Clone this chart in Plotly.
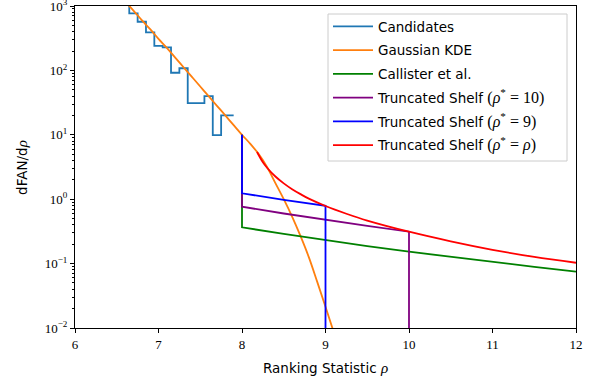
import plotly.graph_objects as go

# ---- data ----
cand_x = [6.55, 6.65, 6.75, 6.85, 6.95, 7.05, 7.15, 7.25, 7.35, 7.45, 7.55, 7.65, 7.75, 7.90]
cand_y = [1050, 770, 570, 390, 240, 228, 92, 108, 31, 31, 40, 9.9, 20, 20]

kde_x = [6.6, 6.7, 6.8, 6.9, 7.0, 7.1, 7.2, 7.3, 7.4, 7.5, 7.6, 7.7, 7.8, 7.9,
         8.0, 8.1, 8.2, 8.3, 8.4, 8.5, 8.6, 8.7, 8.8, 8.9, 9.0, 9.1]
kde_y = [1175, 851, 603, 437, 309, 224, 158, 112, 79.4, 56.2, 39.8, 28.2, 20.0, 14.1,
         10.0, 7.24, 5.01, 3.16, 1.78, 1.00, 0.537, 0.269, 0.126, 0.0525, 0.0214, 0.0085]

call_x = [8.0, 8.0, 8.5, 9.0, 9.5, 10.0, 10.5, 11.0, 11.5, 12.0]
call_y = [10.0, 0.366, 0.289, 0.231, 0.187, 0.153, 0.127, 0.106, 0.089, 0.0753]

ts10_x = [8.0, 8.0, 8.5, 9.0, 9.5, 10.0, 10.0]
ts10_y = [10.0, 0.764, 0.600, 0.477, 0.384, 0.313, 0.001]

ts9_x = [8.0, 8.0, 8.5, 9.0, 9.0]
ts9_y = [10.0, 1.236, 0.977, 0.790, 0.001]

tsr_x = [8.18, 8.25, 8.3, 8.4, 8.5, 8.6, 8.7, 8.8, 9.0, 9.25, 9.5, 10.0, 10.5, 11.0, 11.5, 12.0]
tsr_y = [5.4, 3.74, 3.08, 2.25, 1.76, 1.43, 1.20, 1.02, 0.785, 0.595, 0.466, 0.313, 0.222, 0.164, 0.127, 0.103]

x_ticks = [6, 7, 8, 9, 10, 11, 12]
y_ticks = [0.01, 0.1, 1, 10, 100, 1000]
y_ticktext = ["10<sup>\u22122</sup>", "10<sup>\u22121</sup>", "10<sup>0</sup>",
              "10<sup>1</sup>", "10<sup>2</sup>", "10<sup>3</sup>"]

SERIF = "Liberation Serif, DejaVu Serif, serif"
SANS = "DejaVu Sans, sans-serif"

def rho(s="\u03c1"):
    return "<span style='font-family:Liberation Serif;font-size:15px'><i>%s</i></span>" % s

def shelf(lbl):
    return ("Truncated Shelf <span style='font-family:Liberation Serif;font-size:16px'>(<i>\u03c1</i>"
            "<sup>*</sup>\u00a0=\u00a0%s)</span>" % lbl)

fig = go.Figure()
LW = 1.8
traces = [
    (cand_x, cand_y, "Candidates", "#1f77b4", "hv"),
    (kde_x, kde_y, "Gaussian KDE", "#ff7f0e", "spline"),
    (call_x, call_y, "Callister et al.", "#008000", "linear"),
    (ts10_x, ts10_y, shelf("10"), "#800080", "linear"),
    (ts9_x, ts9_y, shelf("9"), "#0000ff", "linear"),
    (tsr_x, tsr_y, shelf("<i>\u03c1</i>"), "#ff0000", "spline"),
]
for i, (x, y, name, col, shape) in enumerate(traces):
    fig.add_trace(go.Scatter(x=x, y=y, mode="lines", name=name, legendgroup=str(i),
                             line=dict(color=col, width=LW, shape=shape)))

minor_vals = [m * 10 ** e for e in range(-2, 3) for m in range(2, 10)]

fig.update_layout(
    width=597, height=381,
    margin=dict(l=75, r=21, t=6, b=53, autoexpand=False),
    paper_bgcolor="white", plot_bgcolor="white",
    font=dict(family=SANS, size=13.5, color="black"),
    showlegend=True,
    legend=dict(x=(328 - 75) / 501, y=0.984, xanchor="left", yanchor="top",
                bgcolor="rgba(0,0,0,0)", borderwidth=0,
                font=dict(family=SANS, size=13.5), tracegroupgap=3.2,
                itemwidth=40),
    shapes=[dict(type="rect", xref="paper", yref="paper",
                 x0=(328 - 75) / 501, x1=(567 - 75) / 501,
                 y0=1 - (161 - 6) / 322, y1=1 - (14 - 6) / 322,
                 fillcolor="rgba(255,255,255,0.8)", line=dict(color="#cccccc", width=1),
                 layer="above")],
    xaxis=dict(range=[6, 12], tickmode="array", tickvals=x_ticks,
               ticktext=[str(v) for v in x_ticks],
               showgrid=False, zeroline=False, showline=True, linecolor="black",
               linewidth=1, mirror=True, ticks="outside", ticklen=4, tickwidth=1,
               tickcolor="black", tickfont=dict(family=SERIF, size=13)),
    yaxis=dict(type="log", range=[-2, 3.0002], tickmode="array", tickvals=y_ticks,
               ticktext=y_ticktext, ticklabeloverflow="allow",
               showgrid=False, zeroline=False, showline=True, linecolor="black",
               linewidth=1, mirror=True, ticks="outside", ticklen=4, tickwidth=1,
               tickcolor="black", tickfont=dict(family=SERIF, size=13),
               minor=dict(tickvals=minor_vals, ticks="outside", ticklen=2,
                          tickcolor="black", tickwidth=0.8, showgrid=False)),
    annotations=[
        dict(text="Ranking Statistic " + rho(), xref="paper", yref="paper",
             x=0.5, y=-0.124, xanchor="center", yanchor="middle", showarrow=False,
             font=dict(family=SANS, size=13.5)),
        dict(text="dFAN/d" + rho(), xref="paper", yref="paper",
             x=-0.106, y=0.5, xanchor="center", yanchor="middle", showarrow=False,
             textangle=-90, font=dict(family=SANS, size=13.5)),
    ],
)

fig.write_html("out.html", config={"displayModeBar": False},
               post_script="document.body.style.margin='0';")
